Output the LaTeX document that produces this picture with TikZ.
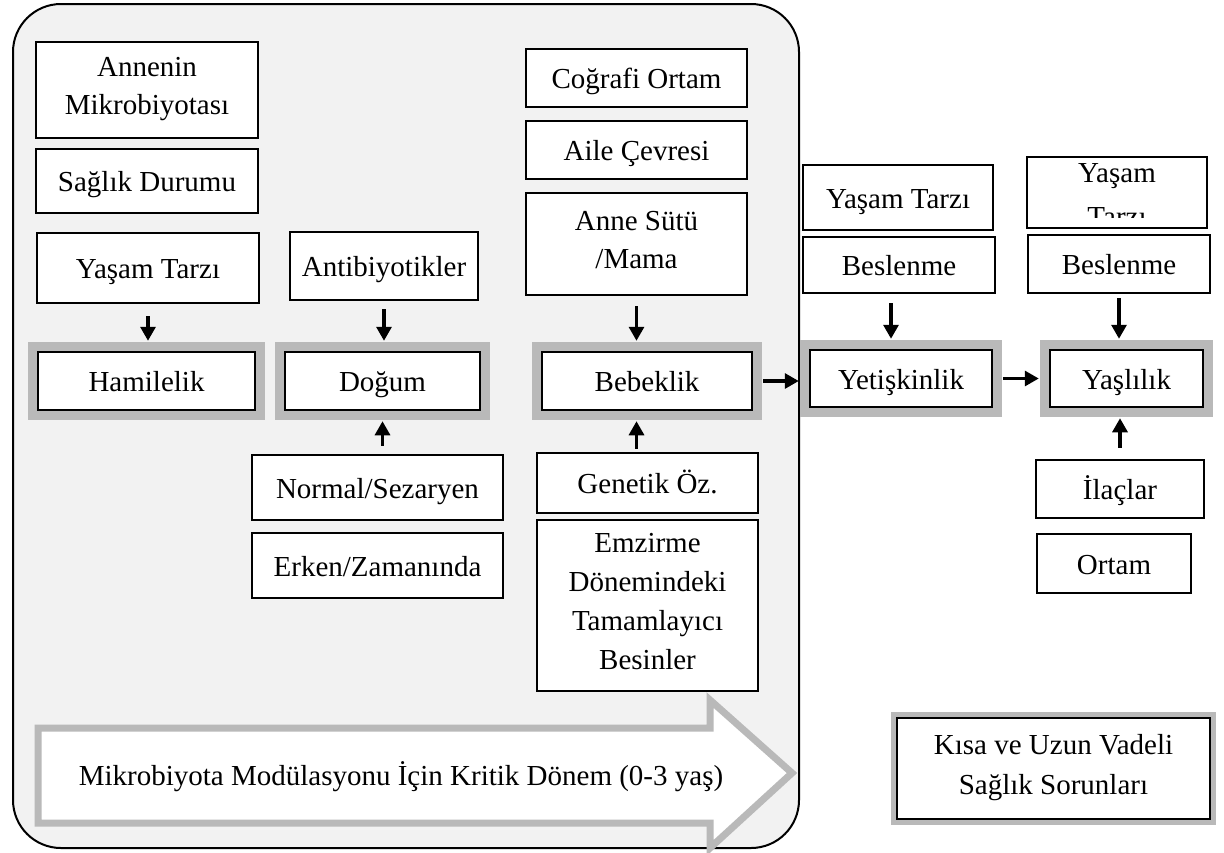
\documentclass[tikz,border=0pt]{standalone}
\usepackage{fontspec}
\setmainfont{Liberation Serif}
\usetikzlibrary{arrows.meta}
\begin{document}
\begin{tikzpicture}[x=0.5pt,y=-0.5pt,
  txt/.style={inner sep=0pt, align=center, font=\fontsize{14.5}{19}\selectfont},
  box/.style={txt, draw=black, line width=1.25pt, fill=white,
    execute at begin node={\rule{0pt}{1em}},
    execute at end node={\rule[-0.25em]{0pt}{0pt}}},
  sz/.style 2 args={minimum width=#1*0.5pt, minimum height=#2*0.5pt},
  frame/.style={box, preaction={draw=gray!55, line width=10pt}},
  framethin/.style={box, preaction={draw=gray!55, line width=6pt}},
  arr/.style={line width=1.6pt, -{Triangle[length=7pt,width=7.5pt]}},
]
\useasboundingbox (0,0) rectangle (1224,852);
% container
\draw[fill=gray!10, line width=1pt, rounded corners=24pt] (13,4) rectangle (799,848);

% column 1
\node[box, sz={222}{96}] (annenin) at (147,90) {Annenin\\Mikrobiyotası};
\node[box, sz={222}{64}] (saglik) at (147,181) {Sağlık Durumu};
\node[box, sz={222}{70}] (yasam1) at (148,268) {Yaşam Tarzı};
\node[frame, sz={217}{58}] (hamilelik) at (146.5,381) {Hamilelik};

% column 2
\node[box, sz={188}{68}] (antibiyotik) at (384,266) {Antibiyotikler};
\node[frame, sz={195}{58}] (dogum) at (382.5,381) {Doğum};
\node[box, sz={251}{65}] (normal) at (377.5,487.5) {Normal/Sezaryen};
\node[box, sz={251}{65}] (erken) at (377.5,565.5) {Erken/Zamanında};

% column 3
\node[box, sz={221}{58}] (cografi) at (636.5,78) {Coğrafi Ortam};
\node[box, sz={221}{58}] (aile) at (636.5,150) {Aile Çevresi};
\node[box, sz={221}{102}] (annesutu) at (636.5,244) {Anne Sütü\\/Mama};
\node[frame, sz={210}{58}] (bebeklik) at (647,381) {Bebeklik};
\node[box, sz={221}{60}] (genetik) at (647.5,483) {Genetik Öz.};
\node[box, sz={221}{171}, font=\fontsize{14.5}{19.5}\selectfont] (emzirme) at (647.5,605.5) {Emzirme\\Dönemindeki\\Tamamlayıcı\\Besinler};

% column 4
\node[box, sz={190}{65}] (yasam4) at (898,197.5) {Yaşam Tarzı};
\node[box, sz={192}{56}] (beslenme4) at (899,265) {Beslenme};
\node[frame, sz={182}{57}] (yetiskinlik) at (901,378.5) {Yetişkinlik};

% column 5
\node[box, sz={180}{71}] (yasam5) at (1117,192.5) {};
\begin{scope}
  \clip (1030,160) rectangle (1204,217);
  \node[txt, anchor=base] (yasam5a) at (1117,182) {Yaşam};
  \node[txt, anchor=base] (yasam5b) at (1117,226) {Tarzı};
\end{scope}
\node[box, sz={182}{58}] (beslenme5) at (1119,264) {Beslenme};
\node[frame, sz={153}{57}] (yaslilik) at (1126.5,378.5) {Yaşlılık};
\node[box, sz={168}{58}] (ilaclar) at (1120,489) {İlaçlar};
\node[box, sz={154}{59}] (ortam) at (1114,563.5) {Ortam};

\node[framethin, sz={313}{101}, font=\fontsize{14.5}{20}\selectfont] (kisa) at (1053.5,768.5) {Kısa ve Uzun Vadeli\\Sağlık Sorunları};

% big arrow
\draw[fill=white, draw=gray!55, line width=3.5pt, line join=miter]
  (38,728) -- (710,728) -- (710,700) -- (792,773) -- (710,848) -- (710,823) -- (38,823) -- cycle;
\node[txt] (kritik) at (401,775) {\rule{0pt}{1em}Mikrobiyota Modülasyonu İçin Kritik Dönem (0-3 yaş)\rule[-0.25em]{0pt}{0pt}};

% connectors
\draw[arr, shorten <=6pt, shorten >=5pt] (yasam1.south) -- (yasam1.south |- hamilelik.north);
\draw[arr, shorten <=4pt, shorten >=5pt] (antibiyotik.south) -- (antibiyotik.south |- dogum.north);
\draw[arr, shorten <=4pt, shorten >=5pt] (normal.north -| dogum.south) -- (dogum.south);
\draw[arr, shorten <=5pt, shorten >=5pt] (annesutu.south) -- (annesutu.south |- bebeklik.north);
\draw[arr, shorten <=1.5pt, shorten >=5pt] (genetik.north -| annesutu.south) -- (annesutu.south |- bebeklik.south);
\draw[arr, shorten <=5pt, shorten >=5pt] (bebeklik.east) -- (bebeklik.east -| yetiskinlik.west);
\draw[arr, shorten <=4.5pt, shorten >=5pt] ([xshift=-4pt]beslenme4.south) -- ([xshift=-4pt]beslenme4.south |- yetiskinlik.north);
\draw[arr, shorten <=5pt, shorten >=5pt] (yetiskinlik.east) -- (yetiskinlik.east -| yaslilik.west);
\draw[arr, shorten <=2pt, shorten >=5pt] (beslenme5.south) -- (beslenme5.south |- yaslilik.north);
\draw[arr, shorten <=5.5pt, shorten >=5pt] (ilaclar.north) -- (ilaclar.north |- yaslilik.south);
\end{tikzpicture}
\end{document}
